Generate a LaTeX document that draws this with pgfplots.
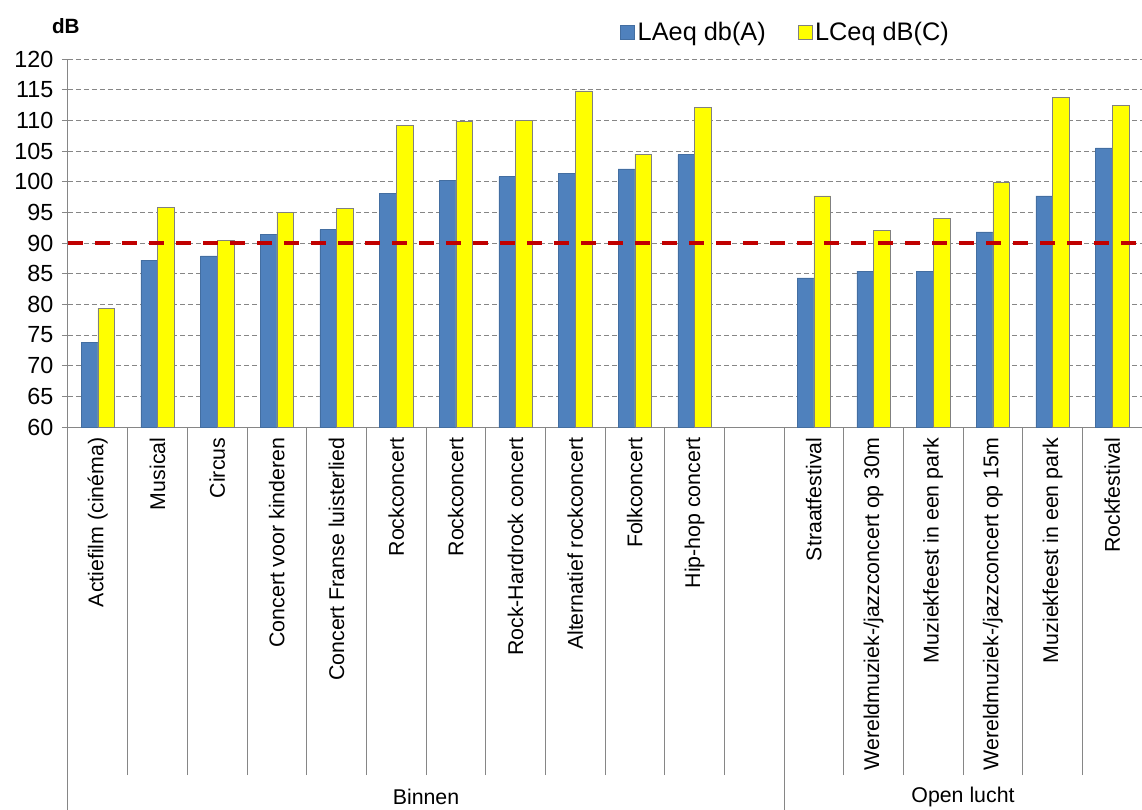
\documentclass[border=0pt]{standalone}
\usepackage{pgfplots}
\pgfplotsset{compat=1.18}
\usepackage{fontspec}
\setmainfont{Liberation Sans}

\definecolor{laeq}{HTML}{4F81BD}
\definecolor{lceq}{HTML}{FFFF00}
\definecolor{gridgray}{HTML}{868686}
\definecolor{limitred}{HTML}{C00000}

\begin{document}
\begin{tikzpicture}
\begin{axis}[
    name=ax,
    scale only axis,
    width=805.5pt, height=276pt,
    xmin=-0.5, xmax=17.5,
    ymin=60, ymax=120,
    ytick={60,65,...,120},
    xtick={0,...,17},
    xticklabels={Actiefilm  (cinéma), Musical, Circus, Concert voor kinderen,
        Concert Franse luisterlied, Rockconcert, Rockconcert, Rock-Hardrock concert,
        Alternatief rockconcert, Folkconcert, Hip-hop concert, {},
        Straatfestival, Wereldmuziek-/jazzconcert op 30m, Muziekfeest in een park,
        Wereldmuziek-/jazzconcert op 15m, Muziekfeest in een park, Rockfestival},
    minor xtick={0.5,1.5,...,10.5,12.5,13.5,14.5,15.5,16.5},
    minor tick length=261pt,
    major tick length=4.5pt,
    tick align=outside,
    major x tick style={draw=none},
    minor x tick style={gridgray, line width=0.75pt},
    major y tick style={gridgray, line width=0.75pt},
    axis x line*=bottom,
    axis y line*=left,
    axis line style={gridgray, line width=0.75pt},
    ymajorgrids,
    major grid style={gridgray, line width=0.6pt, dash pattern=on 3.75pt off 2.25pt},
    xticklabel style={rotate=90, anchor=east, font=\fontsize{16}{19}\selectfont},
    yticklabel style={font=\fontsize{17.5}{20}\selectfont, xshift=-3pt},
    /pgf/number format/assume math mode=true,
    ylabel={dB},
    ylabel style={rotate=-90, at={(rel axis cs:-0.002,1.09)}, anchor=center,
        font=\bfseries\fontsize{15.5}{18}\selectfont},
    ybar,
    clip mode=individual,
    legend style={at={(rel axis cs:0.6685,1.073)}, anchor=center, draw=none, fill=none,
        font=\fontsize{19}{22}\selectfont, legend columns=2,
        /tikz/every even column/.append style={column sep=22pt}},
    legend image code/.code={\draw[#1] (0pt,-5.25pt) rectangle (10.5pt,5.25pt);},
]
\addplot[fill=laeq, draw=laeq!85!black, bar width=0.28, bar shift=-0.14] coordinates {
    (0,73.8) (1,87.2) (2,87.9) (3,91.4) (4,92.2) (5,98.1) (6,100.2) (7,100.8)
    (8,101.4) (9,102.1) (10,104.4)
    (12,84.3) (13,85.4) (14,85.4) (15,91.8) (16,97.7) (17,105.5)};
\addplot[fill=lceq, draw=gray, bar width=0.28, bar shift=0.14] coordinates {
    (0,79.4) (1,95.8) (2,90.4) (3,95.0) (4,95.6) (5,109.2) (6,109.8) (7,110.0)
    (8,114.8) (9,104.5) (10,112.1)
    (12,97.7) (13,92.0) (14,94.0) (15,99.9) (16,113.7) (17,112.5)};
\addplot[sharp plot, forget plot, limitred, line width=3pt,
    dash pattern=on 11.25pt off 9pt] coordinates {(-0.5,90) (17.5,90)};
\legend{LAeq db(A), LCeq dB(C)}

% group dividers and group names
\draw[gridgray, line width=0.75pt] (axis cs:-0.5,60) -- ++(0pt,-287.25pt);
\draw[gridgray, line width=0.75pt] (axis cs:11.5,60) -- ++(0pt,-287.25pt);
\node[font=\fontsize{16}{19}\selectfont] at ([yshift=-277.5pt]axis cs:5.5,60) {Binnen};
\node[font=\fontsize{16}{19}\selectfont] at ([yshift=-277.5pt]axis cs:14.5,60) {Open lucht};
\end{axis}
\pgfresetboundingbox
\path[use as bounding box] ([xshift=-51pt,yshift=-287.25pt]ax.south west)
    rectangle ([yshift=44.25pt]ax.north east);
\end{tikzpicture}
\end{document}
